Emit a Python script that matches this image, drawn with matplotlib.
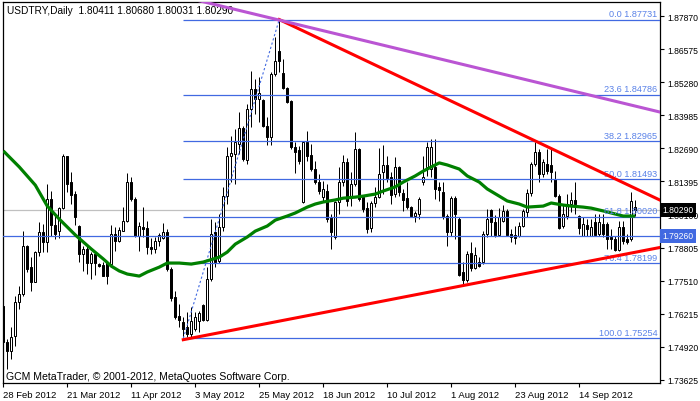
import matplotlib
matplotlib.use("Agg")
import matplotlib.pyplot as plt
import numpy as np

# USDTRY daily candles, 28 Feb 2012 .. early Oct 2012
opens = [
    1.7652, 1.7511, 1.7476, 1.7534, 1.7668, 1.7699, 1.7886, 1.7804, 1.7746, 1.7863,
    1.7941, 1.7902, 1.8071, 1.7969, 1.7945, 1.8035, 1.8239, 1.8137, 1.8090, 1.7965,
    1.7855, 1.7875, 1.7820, 1.7855, 1.7816, 1.7812, 1.7820, 1.7816, 1.7933, 1.7906,
    1.7945, 1.7984, 1.8137, 1.8071, 1.7926, 1.7961, 1.7957, 1.7883, 1.7875, 1.7906,
    1.7918, 1.7941, 1.7797, 1.7687, 1.7613, 1.7589, 1.7570, 1.7542, 1.7562, 1.7593,
    1.7656, 1.7597, 1.7758, 1.7941, 1.7828, 1.7961, 1.8082, 1.8239, 1.8247, 1.8286,
    1.8348, 1.8223, 1.8423, 1.8501, 1.8462, 1.8458, 1.8356, 1.8313, 1.8560, 1.8650,
    1.8564, 1.8505, 1.8454, 1.8274, 1.8262, 1.8059, 1.8294, 1.8243, 1.8188, 1.8137,
    1.8078, 1.8102, 1.8000, 1.7922, 1.8059, 1.8137, 1.8215, 1.8082, 1.8129, 1.8266,
    1.8078, 1.8035, 1.7957, 1.8055, 1.8078, 1.8176, 1.8204, 1.8157, 1.8090, 1.8196,
    1.8094, 1.8074, 1.8039, 1.8004, 1.8012, 1.8137, 1.8196, 1.8188, 1.8196, 1.8118,
    1.8098, 1.8004, 1.7941, 1.8074, 1.7992, 1.7785, 1.7754, 1.7859, 1.7800, 1.7824,
    1.7824, 1.7933, 1.8027, 1.7980, 1.7930, 1.7984, 1.8024, 1.7933, 1.7930, 1.7926,
    1.7965, 1.8020, 1.8094, 1.8208, 1.8254, 1.8168, 1.8208, 1.8204, 1.8149, 1.8082,
    1.7965, 1.8004, 1.8051, 1.8067, 1.8004, 1.7926, 1.7969, 1.7926, 1.7980, 1.7933,
    1.7973, 1.7973, 1.7922, 1.7914, 1.7871, 1.7961, 1.7914, 1.7914, 1.80411,
]
highs = [
    1.7660, 1.7523, 1.7570, 1.7691, 1.7730, 1.7945, 1.7890, 1.7843, 1.7867, 1.7980,
    1.7973, 1.8129, 1.8102, 1.8012, 1.8039, 1.8247, 1.8239, 1.8176, 1.8102, 1.7969,
    1.7886, 1.7894, 1.7863, 1.7863, 1.7820, 1.7824, 1.7828, 1.7969, 1.7961, 1.7961,
    1.8039, 1.8172, 1.8157, 1.8078, 1.7980, 1.8039, 1.7984, 1.7918, 1.7922, 1.7937,
    1.7977, 1.7953, 1.7804, 1.7711, 1.7660, 1.7609, 1.7628, 1.7648, 1.7628, 1.7632,
    1.7660, 1.7804, 1.7992, 1.7980, 1.8012, 1.8118, 1.8274, 1.8317, 1.8345, 1.8411,
    1.8356, 1.8443, 1.8572, 1.8540, 1.8548, 1.8462, 1.8392, 1.8568, 1.8705, 1.87731,
    1.8619, 1.8509, 1.8458, 1.8294, 1.8278, 1.8298, 1.8337, 1.8286, 1.8219, 1.8168,
    1.8141, 1.8129, 1.8012, 1.8063, 1.8196, 1.8243, 1.8231, 1.8176, 1.8333, 1.8270,
    1.8086, 1.8059, 1.8063, 1.8118, 1.8270, 1.8282, 1.8239, 1.8176, 1.8235, 1.8200,
    1.8110, 1.8137, 1.8043, 1.8024, 1.8078, 1.8239, 1.8294, 1.8306, 1.8306, 1.8137,
    1.8137, 1.8012, 1.8082, 1.8082, 1.8000, 1.7824, 1.7867, 1.7902, 1.7883, 1.7843,
    1.7945, 1.8031, 1.8031, 1.8008, 1.8035, 1.8047, 1.8031, 1.7953, 1.7965, 1.7980,
    1.8031, 1.8110, 1.8215, 1.8294, 1.8266, 1.8227, 1.8266, 1.8266, 1.8180, 1.8090,
    1.8047, 1.8090, 1.8098, 1.8137, 1.8008, 1.8000, 1.7992, 1.7992, 1.8012, 1.8012,
    1.8012, 1.7980, 1.7953, 1.7926, 1.7984, 1.7984, 1.7933, 1.8098, 1.80680,
]
lows = [
    1.7503, 1.7405, 1.7445, 1.7495, 1.7640, 1.7691, 1.7785, 1.7711, 1.7746, 1.7847,
    1.7863, 1.7863, 1.7926, 1.7914, 1.7918, 1.8031, 1.8098, 1.8051, 1.7969, 1.7824,
    1.7789, 1.7777, 1.7758, 1.7773, 1.7804, 1.7769, 1.7738, 1.7804, 1.7867, 1.7902,
    1.7945, 1.7980, 1.8063, 1.7922, 1.7867, 1.7922, 1.7855, 1.7855, 1.7859, 1.7886,
    1.7914, 1.7789, 1.7671, 1.7601, 1.7570, 1.75254, 1.7530, 1.7530, 1.7554, 1.7550,
    1.7593, 1.7593, 1.7750, 1.7804, 1.7820, 1.7945, 1.8051, 1.8137, 1.8129, 1.8247,
    1.8219, 1.8208, 1.8352, 1.8403, 1.8372, 1.8352, 1.8282, 1.8282, 1.8552, 1.8568,
    1.8501, 1.8446, 1.8266, 1.8172, 1.8208, 1.8055, 1.8219, 1.8180, 1.8129, 1.8090,
    1.8063, 1.7980, 1.7875, 1.7914, 1.8012, 1.8121, 1.8043, 1.8043, 1.8121, 1.8063,
    1.8020, 1.7937, 1.7941, 1.8039, 1.8074, 1.8090, 1.8137, 1.8051, 1.8078, 1.8082,
    1.8024, 1.8031, 1.8000, 1.7980, 1.7992, 1.8125, 1.8161, 1.8157, 1.8071, 1.8063,
    1.7992, 1.7886, 1.7926, 1.7914, 1.7769, 1.7730, 1.7746, 1.7789, 1.7797, 1.7804,
    1.7816, 1.7922, 1.7926, 1.7922, 1.7926, 1.7980, 1.7926, 1.7902, 1.7894, 1.7922,
    1.7961, 1.8000, 1.8082, 1.8200, 1.8137, 1.8157, 1.8168, 1.8137, 1.8078, 1.7953,
    1.7957, 1.7992, 1.8020, 1.8012, 1.7933, 1.7926, 1.7926, 1.7926, 1.7926, 1.7926,
    1.7922, 1.7875, 1.7875, 1.7867, 1.7867, 1.7894, 1.7894, 1.7906, 1.80031,
]
closes = [
    1.7511, 1.7476, 1.7530, 1.7668, 1.7699, 1.7886, 1.7797, 1.7746, 1.7863, 1.7941,
    1.7902, 1.8071, 1.7969, 1.7933, 1.8035, 1.8239, 1.8129, 1.8086, 1.8000, 1.7855,
    1.7875, 1.7820, 1.7855, 1.7820, 1.7808, 1.7769, 1.7769, 1.7933, 1.7906, 1.7949,
    1.7984, 1.8137, 1.8071, 1.7926, 1.7965, 1.7953, 1.7883, 1.7875, 1.7906, 1.7930,
    1.7941, 1.7797, 1.7683, 1.7609, 1.7597, 1.7562, 1.7542, 1.7593, 1.7609, 1.7624,
    1.7597, 1.7758, 1.7933, 1.7824, 1.7961, 1.8082, 1.8239, 1.8251, 1.8294, 1.8348,
    1.8227, 1.8423, 1.8501, 1.8462, 1.8486, 1.8356, 1.8313, 1.8560, 1.8611, 1.8611,
    1.8505, 1.8450, 1.8274, 1.8254, 1.8219, 1.8294, 1.8239, 1.8188, 1.8137, 1.8102,
    1.8110, 1.7992, 1.7941, 1.8059, 1.8137, 1.8215, 1.8063, 1.8129, 1.8266, 1.8071,
    1.8031, 1.7953, 1.8055, 1.8078, 1.8168, 1.8204, 1.8153, 1.8086, 1.8196, 1.8098,
    1.8067, 1.8039, 1.8004, 1.8016, 1.8071, 1.8157, 1.8274, 1.8274, 1.8110, 1.8106,
    1.8004, 1.7941, 1.8074, 1.8012, 1.7773, 1.7754, 1.7855, 1.7800, 1.7851, 1.7808,
    1.7933, 1.7992, 1.7980, 1.7930, 1.8000, 1.8024, 1.7930, 1.7922, 1.7918, 1.7965,
    1.8024, 1.8094, 1.8208, 1.8254, 1.8168, 1.8215, 1.8180, 1.8176, 1.8082, 1.7957,
    1.8012, 1.8051, 1.8067, 1.8051, 1.7957, 1.7973, 1.7953, 1.7961, 1.7930, 1.7980,
    1.7933, 1.7914, 1.7914, 1.7871, 1.7961, 1.7906, 1.7902, 1.8063, 1.80290,
]

# moving average, sampled along the green line
ma_bars = [0, 4, 8, 11, 14, 18, 22, 25, 27, 29, 31, 34, 36, 39, 41, 44, 47, 50, 54, 56,
           58, 61, 63, 66, 68, 71, 73, 76, 78, 80, 83, 85, 88, 90, 93, 95, 98, 100, 103, 105,
           108, 109, 111, 114, 116, 119, 121, 124, 126, 129, 131, 135, 137, 140, 142, 145,
           147, 150, 152, 155, 158]
ma_vals = [1.8259, 1.8196, 1.8125, 1.8043, 1.7992, 1.7930, 1.7875, 1.7836, 1.7808, 1.7789,
           1.7777, 1.7769, 1.7785, 1.7804, 1.7820, 1.7820, 1.7816, 1.7824, 1.7843, 1.7863,
           1.7894, 1.7922, 1.7945, 1.7965, 1.7988, 1.8004, 1.8016, 1.8039, 1.8051, 1.8059,
           1.8067, 1.8074, 1.8078, 1.8082, 1.8090, 1.8102, 1.8118, 1.8137, 1.8161, 1.8180,
           1.8204, 1.8212, 1.8204, 1.8188, 1.8161, 1.8137, 1.8110, 1.8082, 1.8063, 1.8051,
           1.8039, 1.8043, 1.8055, 1.8047, 1.8043, 1.8039, 1.8035, 1.8024, 1.8016, 1.8004,
           1.8004]

# date labels, one every 16 bars
date_labels = ["28 Feb 2012", "21 Mar 2012", "11 Apr 2012", "3 May 2012", "25 May 2012",
               "18 Jun 2012", "10 Jul 2012", "1 Aug 2012", "23 Aug 2012", "14 Sep 2012"]

# drawing objects
fib_low_bar, fib_low = 45, 1.75254
fib_high_bar, fib_high = 69, 1.87731
fib_levels = [0.0, 23.6, 38.2, 50.0, 61.8, 76.4, 100.0]
upper_trend = [(69, 1.87731), (133, 1.8298)]
lower_trend = [(45, 1.7520), (115, 1.7732)]
purple_trend = [(69, 1.8771), (164.2, 1.8411)]
hline_price = 1.79260
bid_price = 1.80290

y_ticks = [1.73625, 1.74920, 1.76215, 1.77510, 1.78805, 1.80100,
           1.81395, 1.82690, 1.83985, 1.85280, 1.86575, 1.87870]

plt.rcParams['font.family'] = ['Liberation Sans', 'DejaVu Sans']
plt.rcParams['font.size'] = 6.5

idx = np.arange(len(closes))
o, h, l, c = map(np.array, (opens, highs, lows, closes))

fig = plt.figure(figsize=(7, 4.02), dpi=100)
ax = fig.add_axes([3 / 700, 1 - 384 / 402, 657 / 700, 381 / 402])
x_right = 164.2
ax.set_xlim(-0.075, x_right)
ax.set_ylim(1.73505, 1.88418)

# candles
ax.vlines(idx, l, h, color='black', lw=0.72, zorder=2)
up = c >= o
body_h = np.abs(c - o)
body_b = np.minimum(o, c)
ax.bar(idx[up], body_h[up], bottom=body_b[up], width=0.5, color='white',
       edgecolor='black', linewidth=0.72, zorder=3)
ax.bar(idx[~up], body_h[~up], bottom=body_b[~up], width=0.5, color='black',
       edgecolor='black', linewidth=0.72, zorder=3)

# horizontal lines
ax.axhline(bid_price, color='#C0C0C0', lw=0.9, zorder=1)
ax.axhline(hline_price, color='#4169E1', lw=0.9, zorder=4)

# fibonacci retracement
blue = '#4169E1'
fib_prices = [fib_high - lv / 100 * (fib_high - fib_low) for lv in fib_levels]
ax.hlines(fib_prices, fib_low_bar, x_right, colors=blue, lw=0.9, zorder=4)
ax.plot([fib_low_bar, fib_high_bar], [fib_low, fib_high], color=blue, lw=0.8,
        linestyle=(0, (2, 2)), zorder=4)
for lv, pr in zip(fib_levels, fib_prices):
    ax.annotate(f"{lv:.1f} {pr:.5f}", (163.6, pr), xytext=(0, 1), textcoords='offset points',
                ha='right', va='bottom', color='#5A82E8', fontsize=6.6, zorder=6)

# moving average
ax.plot(ma_bars, ma_vals, color='#008000', lw=2.3, zorder=5, solid_capstyle='butt')


def trend(points, x0, x1, color):
    (xa, ya), (xb, yb) = points
    k = (yb - ya) / (xb - xa)
    ax.plot([x0, x1], [ya + k * (x0 - xa), ya + k * (x1 - xa)], color=color, lw=2.2, zorder=6)


trend(upper_trend, fib_high_bar, x_right, '#FF0000')
trend(lower_trend, fib_low_bar, x_right, '#FF0000')
trend(purple_trend, 40, x_right, '#BA55D3')

# axes styling
for sp in ax.spines.values():
    sp.set_linewidth(0.9)
    sp.set_color('black')
ax.yaxis.tick_right()
ax.set_yticks(y_ticks)
ax.set_yticklabels([f"{v:.5f}" for v in y_ticks])
ax.tick_params(axis='y', length=3, pad=2, width=0.8, labelsize=6.2)

tick_pos = idx[::16][:len(date_labels)]
ax.set_xticks(tick_pos)
ax.set_xticklabels(date_labels, ha='left')
ax.tick_params(axis='x', length=3, pad=2, width=0.8, labelsize=6.8)

# price boxes on the scale
ybox = ax.get_yaxis_transform()
ax.text(1.004, bid_price, f"{bid_price:.5f}", transform=ybox, ha='left', va='center',
        color='white', fontsize=6.2, zorder=10,
        bbox=dict(boxstyle='square,pad=0.3', fc='black', ec='none'))
ax.text(1.004, hline_price, f"{hline_price:.5f}", transform=ybox, ha='left', va='center',
        color='white', fontsize=6.2, zorder=10,
        bbox=dict(boxstyle='square,pad=0.3', fc=blue, ec='none'))

ax.text(0.006, 0.979, "USDTRY,Daily  " + " ".join(f"{v:.5f}" for v in (o[-1], h[-1], l[-1], c[-1])),
        transform=ax.transAxes, ha='left', va='center', fontsize=7.3)
ax.text(0.005, 0.018, "GCM MetaTrader, \u00a9 2001-2012, MetaQuotes Software Corp.",
        transform=ax.transAxes, ha='left', va='center', fontsize=7.6)

fig.savefig("out.png", dpi=100)
